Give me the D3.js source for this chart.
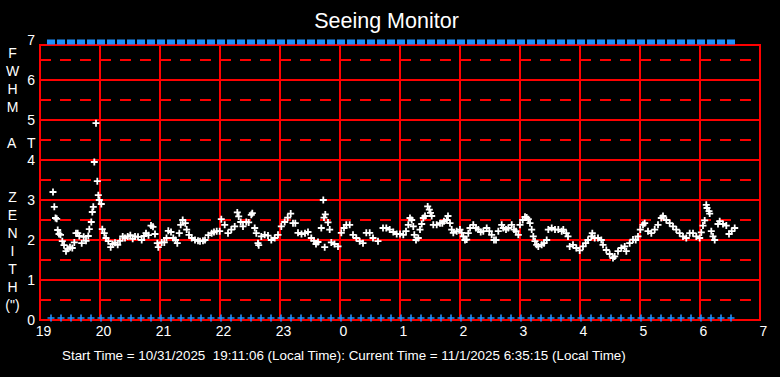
<!DOCTYPE html>
<html>
<head>
<meta charset="utf-8">
<script src="https://cdn.jsdelivr.net/npm/d3@7/dist/d3.min.js"></script>
<style>
  body { margin: 0; background: #000; }
  svg { display: block; font-family: "Liberation Sans", Arial, sans-serif; }
</style>
</head>
<body>
<div id="chart"></div>
<script>
// minutes after 19:00 local time, and the seeing FWHM (arcsec) read at each sample
var minutes = [
  13, 14.3, 15.5, 16.7, 17.7, 19, 20.5, 22.3, 24, 26, 27.7, 30, 32.3, 34.3, 36, 37.7, 39.3, 41.7, 43.7, 46,
  48.3, 49.3, 51.3, 52.3, 53.3, 54.3, 56, 57.3, 58.3, 59.3, 61.3, 62.3, 64.3, 66, 68.3, 70.7, 72.7, 75, 77.7, 80,
  82.7, 85, 87.7, 90.3, 92.7, 95, 98, 101.7, 104, 106, 108.5, 111, 113, 115, 117.3, 118.3, 121.7, 124.3, 126.5, 128.3,
  131, 133.3, 135.5, 137.3, 139.3, 140.7, 142.7, 145.3, 146.7, 149, 151.7, 155, 158, 160, 163, 165, 168.3, 171.7, 174, 176.7,
  179.7, 181.3, 184.7, 188, 191.3, 194.7, 197.3, 198.7, 200.7, 203, 206.3, 208.7, 211.3, 212.3, 214.7, 216.3, 218, 218.7, 221.3, 224.7,
  228, 231.3, 234.7, 238, 241.3, 244.7, 247.7, 250.7, 253, 255.3, 258, 261.5, 265, 268, 271.3, 274, 276, 278, 281.3, 283.3,
  284, 284.7, 285.3, 288, 289.7, 291.3, 294.5, 298, 301.3, 304, 306.3, 309.7, 313, 316.3, 319.7, 323, 326.3, 329.7, 333, 338,
  343, 346.3, 349.7, 353.3, 356.7, 360, 363.3, 366, 368.3, 370, 371.7, 373.3, 374.3, 376, 378.3, 380, 381.7, 383.3, 385, 387.7,
  389.3, 390.5, 391.7, 393.3, 396.7, 400, 402.3, 404, 406.7, 408, 410, 411.7, 413.3, 416.7, 420, 421.7, 423.3, 425, 426.7, 428.3,
  430, 433.3, 436, 438.3, 440.7, 443.3, 446.7, 449.3, 451.7, 454, 456, 458.3, 461.7, 463.3, 466, 468.3, 471.7, 474, 476, 478.3,
  480, 482.7, 485, 486.7, 488.3, 490, 491.7, 493.3, 495, 496.7, 498.3, 501.7, 504, 506.7, 508.3, 511.7, 515, 518.3, 521.7, 523.3,
  526.3, 528, 529.7, 533, 536.3, 539.7, 543, 545.7, 548, 551.3, 552.3, 554.7, 558, 561.3, 563, 566.3, 569.7, 573, 574.7, 578,
  581.3, 584.7, 586.3, 589.7, 593, 595.7, 598, 600.3, 603, 604.7, 608, 611.3, 614.7, 618, 621.3, 623, 626.3, 629.7, 633, 636.3,
  639.7, 643, 646.3, 649.7, 653, 656.3, 659.7, 661.3, 663, 664.7, 666.3, 667, 669, 669.7, 671.3, 673, 674.7, 678, 679.7, 683,
  686.3, 689, 691.7, 694.7
];
var fwhm = [
  3.20, 2.83, 2.55, 2.53, 2.25, 2.15, 2.13, 1.97, 1.87, 1.72, 1.78, 1.82, 1.80, 1.94, 2.17, 2.17, 2.10, 1.92, 2.08, 1.98,
  2.10, 2.27, 2.45, 2.70, 2.83, 3.95, 4.92, 3.47, 3.12, 3.00, 2.90, 2.27, 2.17, 2.05, 1.97, 1.82, 1.90, 1.93, 1.88, 1.98,
  2.09, 2.05, 2.09, 2.12, 2.03, 2.09, 2.08, 2.00, 2.10, 2.17, 2.12, 2.36, 2.33, 2.15, 1.92, 1.82, 1.94, 1.94, 2.05, 2.23,
  2.20, 2.05, 2.00, 1.92, 2.17, 2.38, 2.50, 2.42, 2.26, 2.13, 2.05, 2.00, 1.98, 1.97, 1.98, 2.00, 2.12, 2.17, 2.20, 2.22,
  2.22, 2.52, 2.38, 2.17, 2.26, 2.34, 2.69, 2.59, 2.45, 2.34, 2.45, 2.44, 2.63, 2.67, 2.30, 2.17, 1.92, 1.87, 2.09, 2.13,
  2.11, 2.00, 2.05, 2.13, 2.34, 2.45, 2.56, 2.66, 2.42, 2.42, 2.18, 2.15, 2.17, 2.20, 2.05, 1.98, 1.90, 1.95, 2.30, 3.00,
  2.56, 1.82, 2.64, 2.44, 2.26, 1.94, 1.90, 1.84, 2.18, 2.30, 2.38, 2.38, 2.13, 2.05, 1.97, 1.92, 2.18, 2.18, 2.05, 1.97,
  2.30, 2.30, 2.26, 2.20, 2.15, 2.15, 2.13, 2.22, 2.38, 2.55, 2.50, 2.34, 2.13, 2.00, 2.05, 2.26, 2.40, 2.55, 2.60, 2.84,
  2.76, 2.68, 2.60, 2.38, 2.38, 2.42, 2.42, 2.47, 2.50, 2.60, 2.42, 2.26, 2.18, 2.22, 2.26, 2.18, 2.09, 2.00, 2.01, 2.17,
  2.30, 2.38, 2.30, 2.26, 2.20, 2.22, 2.30, 2.22, 2.13, 2.00, 2.00, 2.22, 2.38, 2.30, 2.26, 2.30, 2.38, 2.26, 2.22, 2.13,
  2.38, 2.50, 2.58, 2.56, 2.52, 2.42, 2.26, 2.09, 1.97, 1.88, 1.84, 1.88, 1.92, 2.00, 2.26, 2.30, 2.26, 2.26, 2.22, 2.26,
  2.17, 2.09, 1.84, 1.88, 1.80, 1.74, 1.84, 1.92, 2.00, 2.09, 2.17, 2.05, 2.05, 2.00, 1.88, 1.75, 1.65, 1.55, 1.59, 1.72,
  1.80, 1.84, 1.72, 1.92, 2.01, 2.00, 2.09, 2.26, 2.38, 2.42, 2.22, 2.17, 2.26, 2.38, 2.55, 2.60, 2.50, 2.42, 2.34, 2.26,
  2.17, 2.09, 2.05, 2.17, 2.17, 2.09, 2.05, 2.19, 2.36, 2.49, 2.88, 2.80, 2.72, 2.66, 2.22, 2.09, 2.00, 2.40, 2.47, 2.40,
  2.36, 2.15, 2.22, 2.30
];
// status markers every ten minutes (minutes after 19:00)
var statusTimes = [
  11, 21, 31, 41, 51, 61, 71, 81, 91, 101, 111, 121, 131, 141, 151, 161, 171, 181, 191, 201,
  211, 221, 231, 241, 251, 261, 271, 281, 291, 301, 311, 321, 331, 341, 351, 361, 371, 381, 391, 401,
  411, 421, 431, 441, 451, 461, 471, 481, 491, 501, 511, 521, 531, 541, 551, 561, 571, 581, 591, 601,
  611, 621, 631, 641, 651, 661, 671, 681, 691
];
var hourTicks = [0, 60, 120, 180, 240, 300, 360, 420, 480, 540, 600, 660, 720];
var hourLabels = ['19', '20', '21', '22', '23', '0', '1', '2', '3', '4', '5', '6', '7'];
var yTicks = [0, 1, 2, 3, 4, 5, 6, 7];
var yHalf = [0.5, 1.5, 2.5, 3.5, 4.5, 5.5, 6.5];
var yTitleRows = ['F', 'W', 'H', 'M', '', 'A   T', '', '', 'Z', 'E', 'N', 'I', 'T', 'H', '(")'];
var title = 'Seeing Monitor';
var footer = 'Start Time = 10/31/2025  19:11:06 (Local Time): Current Time = 11/1/2025 6:35:15 (Local Time)';

var W = 780, H = 377;
var frameTop = 45;
var font = '"Liberation Sans", Arial, sans-serif';

var x = d3.scaleLinear().domain([0, 720]).range([40, 760]);
var y = d3.scaleLinear().domain([0, 7]).range([320, 40]);

var svg = d3.select('#chart').append('svg')
  .attr('width', W)
  .attr('height', H);

svg.append('rect').attr('width', W).attr('height', H).attr('fill', '#000');

svg.append('text')
  .attr('x', 386.5).attr('y', 28)
  .attr('text-anchor', 'middle')
  .attr('fill', '#fff')
  .attr('font-size', 21.5)
  .text(title);

// grid
var grid = svg.append('g').attr('stroke', '#ff0000').attr('stroke-width', 2).attr('fill', 'none');

grid.selectAll('line.half').data(yHalf).enter().append('line')
  .attr('class', 'half')
  .attr('x1', x(0)).attr('x2', x(720))
  .attr('y1', function(d) { return y(d); })
  .attr('y2', function(d) { return y(d); })
  .attr('stroke-dasharray', '11,9');

grid.selectAll('line.whole').data(yTicks.filter(function(d) { return d > 0 && d < 7; })).enter().append('line')
  .attr('class', 'whole')
  .attr('x1', x(0)).attr('x2', x(720))
  .attr('y1', function(d) { return y(d); })
  .attr('y2', function(d) { return y(d); });

grid.selectAll('line.hour').data(hourTicks.slice(1, -1)).enter().append('line')
  .attr('class', 'hour')
  .attr('x1', function(d) { return x(d); })
  .attr('x2', function(d) { return x(d); })
  .attr('y1', frameTop).attr('y2', y(0));

grid.append('rect')
  .attr('x', x(0)).attr('y', frameTop)
  .attr('width', x(720) - x(0))
  .attr('height', y(0) - frameTop);

// axis labels
var xAxis = d3.axisBottom(x)
  .tickValues(hourTicks)
  .tickSize(0)
  .tickPadding(6)
  .tickFormat(function(d, i) { return hourLabels[i]; });

var gx = svg.append('g')
  .attr('transform', 'translate(3,' + y(0) + ')')
  .call(xAxis);
gx.select('.domain').remove();
gx.selectAll('text').attr('fill', '#fff').attr('font-size', 14).attr('font-family', font);

var yAxis = d3.axisLeft(y)
  .tickValues(yTicks)
  .tickSize(0)
  .tickPadding(5)
  .tickFormat(d3.format('d'));

var gy = svg.append('g')
  .attr('transform', 'translate(' + x(0) + ',0)')
  .call(yAxis);
gy.select('.domain').remove();
gy.selectAll('text').attr('fill', '#fff').attr('font-size', 14).attr('font-family', font);

svg.append('g').selectAll('text').data(yTitleRows).enter().append('text')
  .attr('x', function(d) { return d.length > 3 ? 7 : 12.5; })
  .attr('y', function(d, i) { return 58 + i * 18; })
  .attr('text-anchor', function(d) { return d.length > 3 ? 'start' : 'middle'; })
  .attr('fill', '#fff')
  .attr('font-size', 14)
  .style('white-space', 'pre')
  .text(function(d) { return d; });

// status markers
svg.append('g').selectAll('rect').data(statusTimes).enter().append('rect')
  .attr('x', function(d) { return x(d) - 4; })
  .attr('y', y(7) - 0.5)
  .attr('width', 8)
  .attr('height', 5)
  .attr('fill', '#1e90ff');

var cross = 'M-3.5,0H3.5M0,-3.5V3.5';

svg.append('g').selectAll('path').data(statusTimes).enter().append('path')
  .attr('transform', function(d) { return 'translate(' + x(d) + ',' + (y(0) - 2) + ')'; })
  .attr('d', cross)
  .attr('stroke', '#1e90ff')
  .attr('stroke-width', 1.6);

// seeing samples
svg.append('g').selectAll('path').data(minutes).enter().append('path')
  .attr('transform', function(d, i) { return 'translate(' + x(d) + ',' + y(fwhm[i]) + ')'; })
  .attr('d', cross)
  .attr('stroke', '#fff')
  .attr('stroke-width', 1.8);

svg.append('text')
  .attr('x', 62).attr('y', 360)
  .attr('fill', '#fff')
  .attr('font-size', 13.4)
  .style('white-space', 'pre')
  .text(footer);
</script>
</body>
</html>
